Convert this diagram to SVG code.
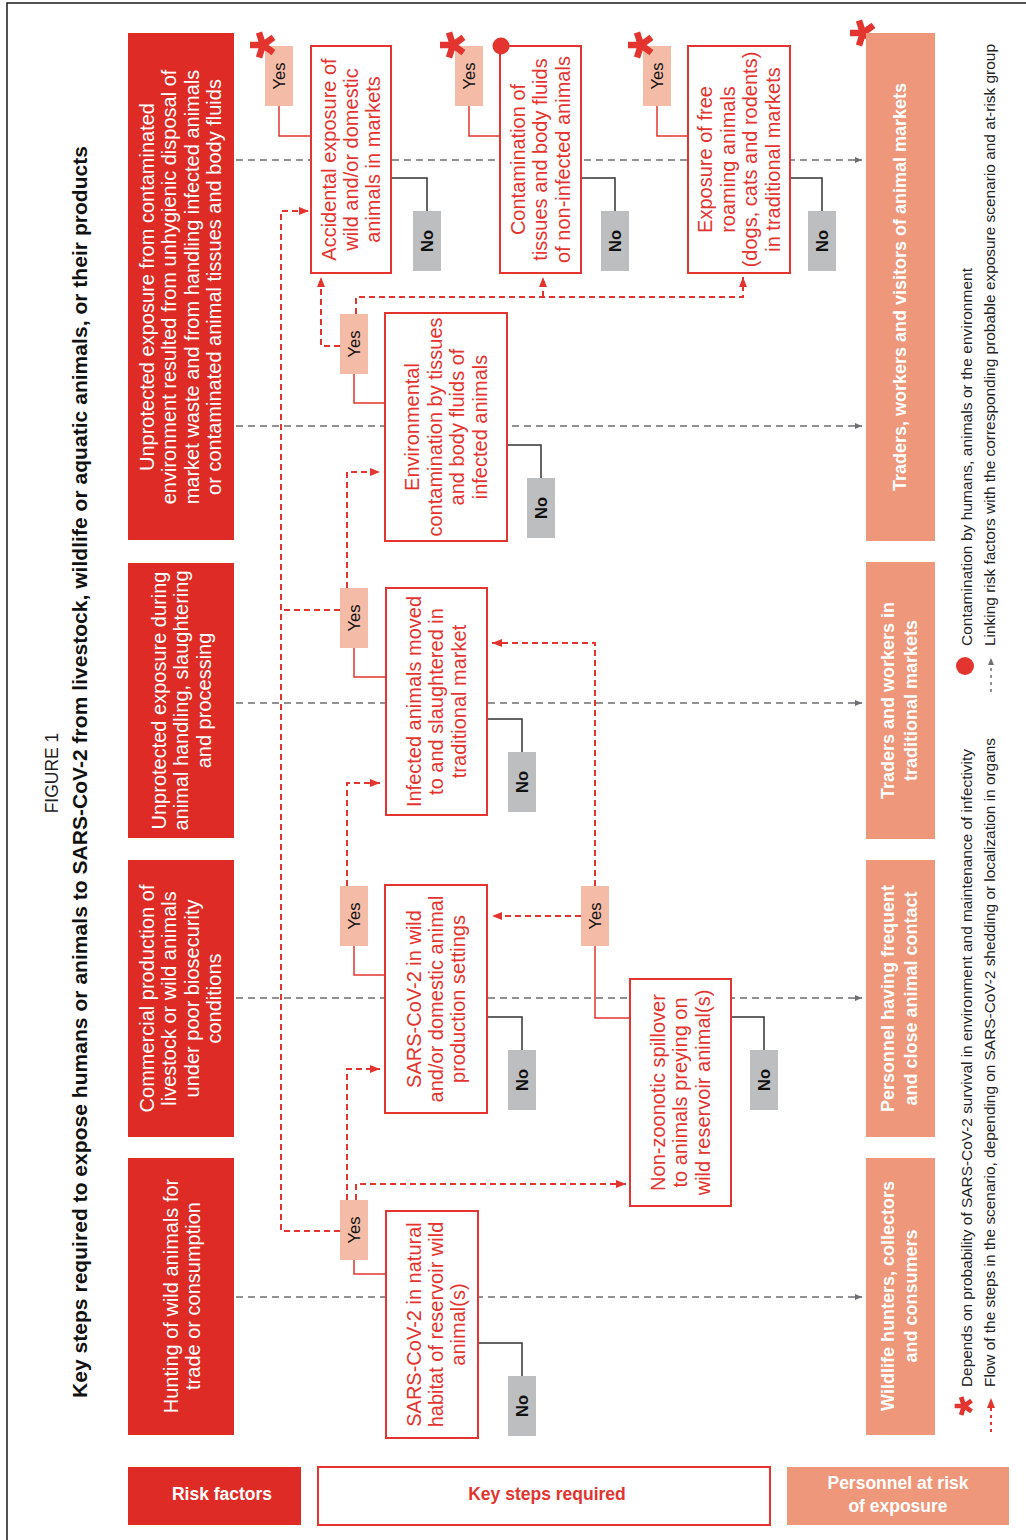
<svg xmlns="http://www.w3.org/2000/svg" width="1026" height="1540" viewBox="0 0 1026 1540">
<style>
.frame{fill:none;stroke:#1a1a1a;stroke-width:1.5}
.rf{fill:#DE2B26}
.ks{fill:#fff;stroke:#E3342F;stroke-width:2}
.pr{fill:#EE977A}
.yes{fill:#F4BCA6}
.no{fill:#BDBEC0}
.t{font-family:"Liberation Sans",Arial,sans-serif}
.wt{fill:#fff;font-size:20px}
.kt{fill:#E3342F;font-size:20px}
.pt{fill:#fff;font-size:18px;font-weight:bold}
.yt{fill:#111;font-size:16.5px}
.nt{fill:#111;font-size:16.5px;font-weight:bold}
.lg{fill:#222;font-size:15.4px}
.lk{fill:none;stroke:#6D6E70;stroke-width:1.3;stroke-dasharray:7 5}
.fl{fill:none;stroke:#E3342F;stroke-width:2;stroke-dasharray:6 4}
.yc{fill:none;stroke:#E3342F;stroke-width:1.5}
.nc{fill:none;stroke:#333;stroke-width:1.5}
.ast{fill:none;stroke:#E3342F;stroke-width:6.5}
</style>
<defs>
<marker id="ar" markerUnits="userSpaceOnUse" markerWidth="10" markerHeight="8" refX="10" refY="4" orient="auto"><path d="M0,0 L10,4 L0,8 Z" fill="#E3342F"/></marker>
<marker id="ag" markerUnits="userSpaceOnUse" markerWidth="7" markerHeight="6" refX="7" refY="3" orient="auto"><path d="M0,0 L7,3 L0,6 Z" fill="#6D6E70"/></marker>
<g id="ast"><path class="ast" d="M0,0 L-13,0 M0,0 L-4,12.4 M0,0 L-4,-12.4 M0,0 L10.5,7.6 M0,0 L10.5,-7.6"/></g>
</defs>

<path class="frame" d="M7,1540 V3 H1026"/>

<g id="title">
<text class="t" font-size="17.5" fill="#222" transform="translate(58,773) rotate(-90)" text-anchor="middle">FIGURE 1</text>
<text class="t" font-size="21" font-weight="bold" fill="#111" transform="translate(87,772) rotate(-90)" text-anchor="middle" textLength="1252" lengthAdjust="spacing">Key steps required to expose humans or animals to SARS-CoV-2 from livestock, wildlife or aquatic animals, or their products</text>
</g>

<g id="connectors">
<path class="lk" d="M236,160 H862" marker-end="url(#ag)"/>
<path class="lk" d="M236,426 H862" marker-end="url(#ag)"/>
<path class="lk" d="M236,703 H862" marker-end="url(#ag)"/>
<path class="lk" d="M236,998 H862" marker-end="url(#ag)"/>
<path class="lk" d="M236,1297 H862" marker-end="url(#ag)"/>

<path class="fl" d="M340,1231 H281 V211 H309" marker-end="url(#ar)"/>
<path class="fl" d="M340,610 H281"/>
<path class="fl" d="M340,346 H321 V277" marker-end="url(#ar)"/>
<path class="fl" d="M356,314 V297 H743 V277" marker-end="url(#ar)"/>
<path class="fl" d="M543,297 V277" marker-end="url(#ar)"/>
<path class="fl" d="M347,588 V472 H380" marker-end="url(#ar)"/>
<path class="fl" d="M347,886 V783 H380" marker-end="url(#ar)"/>
<path class="fl" d="M595,886 V643 H492" marker-end="url(#ar)"/>
<path class="fl" d="M581,916 H492" marker-end="url(#ar)"/>
<path class="fl" d="M347,1200 V1069 H380" marker-end="url(#ar)"/>
<path class="fl" d="M356,1200 V1184 H626" marker-end="url(#ar)"/>

<path class="yc" d="M279,106 V136 H311"/>
<path class="yc" d="M469,106 V136 H500"/>
<path class="yc" d="M657,106 V136 H688"/>
<path class="yc" d="M354,374 V403 H385"/>
<path class="yc" d="M354,648 V677 H386"/>
<path class="yc" d="M354,946 V975 H385"/>
<path class="yc" d="M595,946 V1018 H630"/>
<path class="yc" d="M354,1260 V1274 H386"/>

<path class="nc" d="M391,178 H427 V211"/>
<path class="nc" d="M581,178 H615 V211"/>
<path class="nc" d="M790,178 H822 V211"/>
<path class="nc" d="M507,445 H541 V478"/>
<path class="nc" d="M487,719 H522 V752"/>
<path class="nc" d="M487,1017 H522 V1050"/>
<path class="nc" d="M731,1017 H764 V1050"/>
<path class="nc" d="M478,1343 H522 V1376"/>
</g>

<g id="risk1"><rect class="rf" x="128" y="33" width="106" height="507"/>
<text class="t wt" transform="translate(154,287) rotate(-90)" text-anchor="middle"><tspan x="0" y="0">Unprotected exposure from contaminated</tspan><tspan x="0" y="22.3">environment resulted from unhygienic disposal of</tspan><tspan x="0" y="44.6">market waste and from handling infected animals</tspan><tspan x="0" y="66.9">or contaminated animal tissues and body fluids</tspan></text></g>
<g id="risk2"><rect class="rf" x="128" y="563" width="106" height="275"/>
<text class="t wt" transform="translate(166,700.5) rotate(-90)" text-anchor="middle"><tspan x="0" y="0">Unprotected exposure during</tspan><tspan x="0" y="22.3">animal handling, slaughtering</tspan><tspan x="0" y="44.6">and processing</tspan></text></g>
<g id="risk3"><rect class="rf" x="128" y="860" width="106" height="277"/>
<text class="t wt" transform="translate(154,998.5) rotate(-90)" text-anchor="middle"><tspan x="0" y="0">Commercial production of</tspan><tspan x="0" y="22.3">livestock or wild animals</tspan><tspan x="0" y="44.6">under poor biosecurity</tspan><tspan x="0" y="66.9">conditions</tspan></text></g>
<g id="risk4"><rect class="rf" x="128" y="1158" width="106" height="277"/>
<text class="t wt" transform="translate(178,1296) rotate(-90)" text-anchor="middle"><tspan x="0" y="0">Hunting of wild animals for</tspan><tspan x="0" y="22.3">trade or consumption</tspan></text></g>

<g id="stepA"><rect class="ks" x="311" y="46" width="80" height="227"/>
<text class="t kt" transform="translate(335.6,159.5) rotate(-90)" text-anchor="middle"><tspan x="0" y="0">Accidental exposure of</tspan><tspan x="0" y="22.4">wild and/or domestic</tspan><tspan x="0" y="44.8">animals in markets</tspan></text></g>
<g id="stepB"><rect class="ks" x="500" y="46" width="81" height="227"/>
<text class="t kt" transform="translate(525,159.5) rotate(-90)" text-anchor="middle"><tspan x="0" y="0">Contamination of</tspan><tspan x="0" y="22.4">tissues and body fluids</tspan><tspan x="0" y="44.8">of non-infected animals</tspan></text></g>
<g id="stepC"><rect class="ks" x="688" y="46" width="102" height="227"/>
<text class="t kt" transform="translate(712.4,159.5) rotate(-90)" text-anchor="middle"><tspan x="0" y="0">Exposure of free</tspan><tspan x="0" y="22.4">roaming animals</tspan><tspan x="0" y="44.8">(dogs, cats and rodents)</tspan><tspan x="0" y="67.2">in traditional markets</tspan></text></g>
<g id="stepD"><rect class="ks" x="385" y="313" width="122" height="228"/>
<text class="t kt" transform="translate(419.4,427) rotate(-90)" text-anchor="middle"><tspan x="0" y="0">Environmental</tspan><tspan x="0" y="22.4">contamination by tissues</tspan><tspan x="0" y="44.8">and body fluids of</tspan><tspan x="0" y="67.2">infected animals</tspan></text></g>
<g id="stepE"><rect class="ks" x="386" y="588" width="101" height="227"/>
<text class="t kt" transform="translate(421,701.5) rotate(-90)" text-anchor="middle"><tspan x="0" y="0">Infected animals moved</tspan><tspan x="0" y="22.4">to and slaughtered in</tspan><tspan x="0" y="44.8">traditional market</tspan></text></g>
<g id="stepF"><rect class="ks" x="385" y="885" width="102" height="228"/>
<text class="t kt" transform="translate(420.6,999) rotate(-90)" text-anchor="middle"><tspan x="0" y="0">SARS-CoV-2 in wild</tspan><tspan x="0" y="22.4">and/or domestic animal</tspan><tspan x="0" y="44.8">production settings</tspan></text></g>
<g id="stepG"><rect class="ks" x="630" y="979" width="101" height="227"/>
<text class="t kt" transform="translate(665,1092.5) rotate(-90)" text-anchor="middle"><tspan x="0" y="0">Non-zoonotic spillover</tspan><tspan x="0" y="22.4">to animals preying on</tspan><tspan x="0" y="44.8">wild reservoir animal(s)</tspan></text></g>
<g id="stepH"><rect class="ks" x="386" y="1211" width="92" height="227"/>
<text class="t kt" transform="translate(420.5,1324.5) rotate(-90)" text-anchor="middle"><tspan x="0" y="0">SARS-CoV-2 in natural</tspan><tspan x="0" y="22.4">habitat of reservoir wild</tspan><tspan x="0" y="44.8">animal(s)</tspan></text></g>

<g id="yesA"><rect class="yes" x="265" y="46" width="28" height="60"/><text class="t yt" transform="translate(285,76) rotate(-90)" text-anchor="middle">Yes</text></g>
<g id="yesB"><rect class="yes" x="455" y="46" width="28" height="60"/><text class="t yt" transform="translate(475,76) rotate(-90)" text-anchor="middle">Yes</text></g>
<g id="yesC"><rect class="yes" x="643" y="46" width="28" height="60"/><text class="t yt" transform="translate(663,76) rotate(-90)" text-anchor="middle">Yes</text></g>
<g id="yesD"><rect class="yes" x="340" y="314" width="28" height="60"/><text class="t yt" transform="translate(360,344) rotate(-90)" text-anchor="middle">Yes</text></g>
<g id="yesE"><rect class="yes" x="340" y="588" width="28" height="60"/><text class="t yt" transform="translate(360,618) rotate(-90)" text-anchor="middle">Yes</text></g>
<g id="yesF"><rect class="yes" x="340" y="886" width="28" height="60"/><text class="t yt" transform="translate(360,916) rotate(-90)" text-anchor="middle">Yes</text></g>
<g id="yesG"><rect class="yes" x="581" y="886" width="28" height="60"/><text class="t yt" transform="translate(601,916) rotate(-90)" text-anchor="middle">Yes</text></g>
<g id="yesH"><rect class="yes" x="340" y="1200" width="28" height="60"/><text class="t yt" transform="translate(360,1230) rotate(-90)" text-anchor="middle">Yes</text></g>

<g id="noA"><rect class="no" x="413" y="211" width="28" height="60"/><text class="t nt" transform="translate(433,241) rotate(-90)" text-anchor="middle">No</text></g>
<g id="noB"><rect class="no" x="601" y="211" width="28" height="60"/><text class="t nt" transform="translate(621,241) rotate(-90)" text-anchor="middle">No</text></g>
<g id="noC"><rect class="no" x="808" y="211" width="28" height="60"/><text class="t nt" transform="translate(828,241) rotate(-90)" text-anchor="middle">No</text></g>
<g id="noD"><rect class="no" x="527" y="478" width="28" height="60"/><text class="t nt" transform="translate(547,508) rotate(-90)" text-anchor="middle">No</text></g>
<g id="noE"><rect class="no" x="508" y="752" width="28" height="60"/><text class="t nt" transform="translate(528,782) rotate(-90)" text-anchor="middle">No</text></g>
<g id="noF"><rect class="no" x="508" y="1050" width="28" height="60"/><text class="t nt" transform="translate(528,1080) rotate(-90)" text-anchor="middle">No</text></g>
<g id="noG"><rect class="no" x="750" y="1050" width="28" height="60"/><text class="t nt" transform="translate(770,1080) rotate(-90)" text-anchor="middle">No</text></g>
<g id="noH"><rect class="no" x="508" y="1376" width="28" height="60"/><text class="t nt" transform="translate(528,1406) rotate(-90)" text-anchor="middle">No</text></g>

<g id="markers">
<use href="#ast" x="263" y="45"/>
<use href="#ast" x="453" y="45"/>
<use href="#ast" x="641" y="45"/>
<use href="#ast" x="863" y="33"/>
<circle cx="501" cy="46" r="8.5" fill="#E3342F"/>
</g>

<g id="personnel1"><rect class="pr" x="866" y="33" width="69" height="508"/>
<text class="t pt" transform="translate(906,287) rotate(-90)" text-anchor="middle">Traders, workers and visitors of animal markets</text></g>
<g id="personnel2"><rect class="pr" x="866" y="562" width="69" height="277"/>
<text class="t pt" transform="translate(894,700.5) rotate(-90)" text-anchor="middle"><tspan x="0" y="0">Traders and workers in</tspan><tspan x="0" y="23">traditional markets</tspan></text></g>
<g id="personnel3"><rect class="pr" x="866" y="860" width="69" height="277"/>
<text class="t pt" transform="translate(894,998.5) rotate(-90)" text-anchor="middle"><tspan x="0" y="0">Personnel having frequent</tspan><tspan x="0" y="23">and close animal contact</tspan></text></g>
<g id="personnel4"><rect class="pr" x="866" y="1158" width="69" height="277"/>
<text class="t pt" transform="translate(894,1296) rotate(-90)" text-anchor="middle"><tspan x="0" y="0">Wildlife hunters, collectors</tspan><tspan x="0" y="23">and consumers</tspan></text></g>

<g id="legend">
<use href="#ast" transform="translate(964,1406) scale(0.72)"/>
<text class="t lg" transform="translate(971.5,1387) rotate(-90)" textLength="638" lengthAdjust="spacing">Depends on probability of SARS-CoV-2 survival in environment and maintenance of infectivity</text>
<path d="M991,1432 V1398" fill="none" stroke="#E3342F" stroke-width="2" stroke-dasharray="3 4" marker-end="url(#ar)"/>
<text class="t lg" transform="translate(995,1387) rotate(-90)" textLength="649" lengthAdjust="spacing">Flow of the steps in the scenario, depending on SARS-CoV-2 shedding or localization in organs</text>
<circle cx="965" cy="666" r="9" fill="#E3342F"/>
<text class="t lg" transform="translate(971.5,646) rotate(-90)" textLength="378" lengthAdjust="spacing">Contamination by humans, animals or the environment</text>
<path d="M991,692 V658" fill="none" stroke="#6D6E70" stroke-width="1.5" stroke-dasharray="3 4" marker-end="url(#ag)"/>
<text class="t lg" transform="translate(995,646) rotate(-90)" textLength="602" lengthAdjust="spacing">Linking risk factors with the corresponding probable exposure scenario and at-risk group</text>
</g>

<g id="header-risk"><rect class="rf" x="128" y="1467" width="173" height="58"/>
<text class="t" x="222" y="1500" font-size="17.5" font-weight="bold" fill="#fff" text-anchor="middle">Risk factors</text></g>
<g id="header-steps"><rect class="ks" x="318" y="1467" width="452" height="58"/>
<text class="t" x="547" y="1500" font-size="17.5" font-weight="bold" fill="#E3342F" text-anchor="middle">Key steps required</text></g>
<g id="header-personnel"><rect class="pr" x="787" y="1467" width="222" height="58"/>
<text class="t" x="898" y="1489" font-size="17.5" font-weight="bold" fill="#fff" text-anchor="middle">Personnel at risk</text>
<text class="t" x="898" y="1511.5" font-size="17.5" font-weight="bold" fill="#fff" text-anchor="middle">of exposure</text></g>
</svg>
